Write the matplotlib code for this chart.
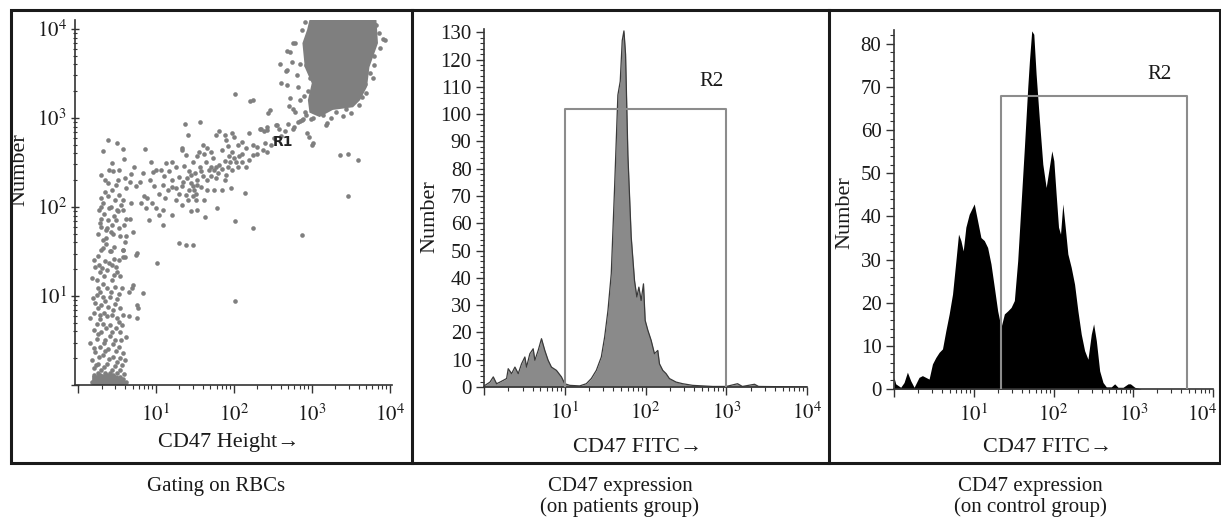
import numpy as np
import matplotlib
matplotlib.use("Agg")
import matplotlib.pyplot as plt
from matplotlib.ticker import FixedLocator, FixedFormatter, NullFormatter, MultipleLocator, LogLocator
from matplotlib.patches import Rectangle
from matplotlib.lines import Line2D
from matplotlib.transforms import ScaledTranslation

plt.rcParams['font.family'] = ['Liberation Serif', 'DejaVu Serif']
plt.rcParams['mathtext.fontset'] = 'stix'

# ---------------- DATA ----------------
# Panel 1: gating scatter, values given as log10(CD47 height), log10(number)
rbc_log_height = [
    2.01, 2.21, 2.44, 2.68, 2.76, 2.67, 3.94, 3.36, 3.47, 3.59, 3.47, 2.87, 2.01, 2.24,
    1.01, 2.01, 1.29, 1.39, 1.48, 2.14, 1.78, 1.63, 1.37, 1.56, 1.41, 0.39, 0.50, 0.32,
    0.58, 0.86, 0.59, 0.94, 1.33, 2.42, 2.55, 2.76, 2.97, 3.00, 2.33, 0.84, 1.09, 0.71,
    0.74, 0.70, 0.83, 0.75, 0.65, 0.60,
    1.81, 1.88, 1.98, 2.00, 1.77, 2.11, 2.20, 2.35, 2.39, 2.54, 2.58, 2.77, 2.88, 2.92,
    3.01, 2.94, 3.01, 3.18, 2.71, 2.79,
    0.44, 0.29, 0.40, 0.53, 0.68, 0.83, 0.96, 1.06, 1.13, 1.21, 1.26, 1.34, 1.38, 1.47,
    1.53, 1.62, 1.66, 1.73, 1.77, 1.85, 1.92, 1.94, 1.98, 2.03, 2.07, 2.11, 2.20, 2.24,
    2.30, 2.37, 2.43, 1.85, 1.68, 1.58, 1.45, 1.30, 1.17, 0.98, 1.09, 1.21, 1.04, 1.15,
    1.26, 1.34, 1.45, 1.49, 1.47, 1.41, 1.51, 1.62, 1.66, 1.75, 1.85, 1.96, 1.88, 1.77,
    1.66, 1.26, 1.34, 1.45, 1.53,
    0.89, 0.87, 1.00, 1.09, 1.21, 1.04, 0.81, 0.68, 0.57, 0.47, 0.38, 0.32, 0.27, 0.40,
    0.51, 0.29, 0.36, 0.44, 0.53, 0.59, 0.49, 0.66, 0.62, 0.91,
    0.32, 0.42, 0.57, 0.57, 0.27, 0.40, 0.49,
    1.00, 0.74, 0.62, 0.66, 0.38, 0.44, 0.53, 0.34,
    1.43, 1.47, 1.51, 1.38, 1.53, 1.71, 1.75, 1.81, 1.92, 1.98, 2.05, 1.88, 1.64, 1.56,
    0.51, 0.57, 0.29, 0.38,
    0.30, 0.41, 0.58, 0.60, 0.75, 0.35, 0.43, 0.22, 0.28, 0.37, 0.50, 0.54, 0.24, 0.32,
    0.43, 0.26, 0.37, 0.47, 0.56, 0.69, 0.65, 0.24, 0.32, 0.41, 0.50, 0.22, 0.30, 0.39,
    0.45, 0.54, 0.77, 0.20, 0.28, 0.37, 0.50, 0.58, 0.15, 0.24, 0.32, 0.41, 0.56, 0.75,
    0.20, 0.30, 0.44, 0.54, 0.62, 0.24, 0.35, 0.47, 0.15, 0.28, 0.39, 0.52, 0.58, 0.22,
    0.32, 0.45, 0.18, 0.26, 0.37, 0.50, 0.56, 0.20, 0.30, 0.43, 0.54, 0.20, 0.28, 0.37,
    0.45, 0.54, 0.58,
    0.18, 0.22, 0.26, 0.30, 0.34, 0.38, 0.42, 0.46, 0.50, 0.54, 0.58, 0.62,
    0.28, 0.37, 0.45, 0.54, 0.30, 0.50, 0.62, 0.32, 0.60,
    0.18, 0.33, 0.46, 0.28, 0.42, 0.52, 0.19, 0.35, 0.47, 0.26, 0.33, 0.43, 0.53, 0.28,
    0.36, 0.49, 0.26, 0.41, 0.55, 0.33, 0.45, 0.20, 0.35, 0.49, 0.27, 0.40, 0.54, 0.23,
    0.33, 0.47, 0.25, 0.34, 0.41, 0.50, 0.59, 0.24, 0.32, 0.40, 0.48, 0.20, 0.25, 0.36,
    0.46, 0.52, 0.31, 0.46,
    2.91, 2.87, 2.96, 2.78, 2.72, 2.59, 2.68, 2.74, 2.85, 2.81, 2.61, 2.68, 2.82, 2.72,
    2.85, 2.76, 2.91, 2.46, 2.89, 2.85, 2.99, 3.19, 3.31, 3.44, 3.65, 3.91, 3.83, 3.72,
    3.06, 3.02, 2.25, 2.42,
    3.80, 3.75, 3.68, 3.86, 3.60, 3.50, 3.05, 3.15, 2.95, 2.93, 2.92,
    1.35, 1.40, 1.52, 1.58, 1.60, 1.42, 1.50, 1.36, 1.70, 1.80, 1.90, 1.95, 2.00, 2.10,
    2.15, 2.25, 2.30, 2.40, 2.48, 2.52, 2.60, 2.65, 2.70, 2.82, 1.70, 1.60, 1.55, 2.05,
    1.90, 2.15, 0.35, 0.45, 0.48, 0.60, 0.72, 0.30, 0.42, 0.55, 0.33, 0.46, 0.36, 0.42,
    0.25, 0.80, 0.92, 1.10, 1.20, 1.12, 0.95, 1.30,
    2.98, 3.80, 3.88, 3.80, 3.78, 3.70, 3.40, 3.25, 2.98, 2.93, 3.00, 2.90,
]
rbc_log_number = [
    3.27, 3.19, 3.06, 3.75, 3.84, 3.53, 3.88, 2.58, 2.60, 2.53, 2.12, 1.69, 1.84, 1.76,
    1.37, 0.94, 1.59, 1.57, 1.57, 2.16, 1.99, 1.89, 2.93, 2.95, 2.81, 2.75, 2.72, 2.63,
    2.65, 2.65, 2.54, 2.51, 2.66, 2.90, 2.92, 2.88, 2.79, 2.70, 2.88, 2.12, 1.80, 1.72,
    1.46, 1.12, 1.03, 0.90, 0.77, 0.28,
    2.85, 2.81, 2.83, 2.79, 2.81, 2.73, 2.83, 2.88, 2.85, 2.92, 2.88, 2.90, 2.98, 3.03,
    3.00, 2.83, 2.72, 2.92, 3.13, 3.07,
    2.49, 2.36, 2.42, 2.42, 2.37, 2.38, 2.39, 2.42, 2.49, 2.51, 2.45, 2.64, 2.58, 2.51,
    2.57, 2.60, 2.66, 2.55, 2.45, 2.64, 2.68, 2.57, 2.62, 2.51, 2.57, 2.60, 2.53, 2.58,
    2.60, 2.64, 2.62, 2.43, 2.42, 2.40, 2.36, 2.34, 2.40, 2.23, 2.25, 2.30, 2.15, 2.19,
    2.21, 2.23, 2.27, 2.19, 2.12, 2.08, 2.08, 2.08, 2.19, 2.19, 2.19, 2.21, 2.30, 2.32,
    2.30, 2.08, 2.02, 1.95, 1.97,
    2.10, 1.99, 1.99, 1.97, 1.91, 1.91, 2.04, 2.04, 1.97, 2.08, 2.12, 2.04, 1.97, 1.99,
    1.95, 1.78, 1.74, 1.80, 1.76, 1.80, 1.85, 1.87, 1.67, 1.85,
    1.54, 1.50, 1.52, 1.44, 1.35, 1.37, 1.33,
    2.42, 2.23, 2.21, 2.28, 2.27, 2.19, 2.13, 2.17,
    2.19, 2.23, 2.15, 2.13, 2.25, 2.45, 2.42, 2.47, 2.45, 2.42, 2.45, 2.52, 2.51, 2.45,
    2.30, 2.08, 1.87, 1.85,
    1.52, 1.50, 1.52, 1.44, 1.48, 1.39, 1.35, 1.33, 1.27, 1.29, 1.27, 1.22, 1.18, 1.14,
    1.18, 1.09, 1.09, 1.10, 1.09, 1.09, 1.05, 1.01, 0.99, 0.99, 0.97, 0.92, 0.90, 0.88,
    0.84, 0.86, 0.86, 0.81, 0.79, 0.77, 0.75, 0.79, 0.75, 0.69, 0.69, 0.67, 0.67, 0.75,
    0.62, 0.60, 0.60, 0.60, 0.54, 0.52, 0.51, 0.51, 0.47, 0.43, 0.41, 0.43, 0.36, 0.37,
    0.34, 0.32, 0.28, 0.24, 0.24, 0.26, 0.22, 0.19, 0.17, 0.17, 0.17, 0.11, 0.11, 0.11,
    0.11, 0.09, 0.07,
    0.03, 0.03, 0.03, 0.03, 0.03, 0.03, 0.03, 0.03, 0.03, 0.03, 0.03, 0.03,
    1.82, 1.76, 1.70, 1.67, 2.00, 1.97, 1.87, 1.63, 1.61,
    1.20, 1.22, 1.24, 1.05, 1.04, 1.02, 0.98, 0.94, 0.91, 0.86, 0.81, 0.79, 0.71, 0.74,
    0.64, 0.64, 0.57, 0.55, 0.50, 0.47, 0.46, 0.42, 0.38, 0.38, 0.31, 0.29, 0.30, 0.22,
    0.20, 0.21, 0.14, 0.14, 0.14, 0.13, 0.12, 0.07, 0.07, 0.07, 0.07, 1.40, 1.45, 1.58,
    1.55, 1.40, 1.31, 1.42,
    4.08, 3.99, 3.93, 3.84, 3.74, 3.61, 3.54, 3.63, 3.61, 3.48, 3.39, 3.37, 3.35, 3.22,
    3.20, 3.10, 3.07, 3.09, 2.99, 2.97, 2.99, 2.94, 3.07, 3.10, 3.24, 3.89, 4.04, 3.93,
    3.85, 3.70, 3.20, 2.86,
    3.70, 3.50, 3.38, 3.95, 3.15, 3.05, 3.12, 3.03, 3.30, 3.60, 3.80,
    2.28, 2.32, 2.30, 2.22, 2.35, 2.40, 2.38, 2.46, 2.35, 2.38, 2.36, 2.50, 2.55, 2.50,
    2.66, 2.70, 2.67, 2.72, 2.70, 2.78, 2.80, 2.85, 2.93, 2.95, 2.62, 2.70, 2.62, 2.70,
    2.75, 2.45, 2.30, 2.40, 2.25, 2.32, 2.45, 2.10, 2.00, 2.02, 1.92, 1.90, 1.65, 1.72,
    1.70, 2.28, 2.30, 2.35, 2.22, 2.10, 2.05, 2.15,
    3.95, 4.05, 3.78, 3.60, 3.45, 3.28, 3.02, 3.00, 3.45, 3.68, 3.15, 3.25,
]
# outlines of the densest (saturated) regions, log10 units
cluster_log_height = [2.97, 3.83, 3.85, 3.74, 3.71, 3.62, 3.53, 3.27, 3.10, 2.97, 2.95, 3.00, 2.91, 2.88, 2.94]
cluster_log_number = [4.10, 4.10, 3.84, 3.57, 3.35, 3.20, 3.12, 3.09, 3.01, 3.06, 3.20, 3.39, 3.57, 3.84, 3.99]
column_log_height = [0.18, 0.60, 0.58, 0.45, 0.30, 0.18]
column_log_number = [0.00, 0.00, 0.08, 0.12, 0.12, 0.10]

# Panel 2: patients histogram (log10 FITC, count)
pat_log_fitc = [0.0, 0.012, 0.074, 0.115, 0.156, 0.198, 0.280, 0.300, 0.342, 0.383, 0.424, 0.465,
                0.506, 0.527, 0.568, 0.609, 0.630, 0.671, 0.712, 0.753, 0.794, 0.835, 0.897, 0.959,
                1.0, 1.062, 1.185, 1.267, 1.329, 1.391, 1.453, 1.494, 1.535, 1.576, 1.617, 1.658,
                1.687, 1.712, 1.733, 1.753, 1.782, 1.823, 1.864, 1.893, 1.918, 1.946, 1.975, 1.996,
                2.029, 2.070, 2.111, 2.152, 2.173, 2.214, 2.255, 2.296, 2.379, 2.461, 2.584, 2.831,
                3.0, 3.14, 3.2, 3.35, 3.4, 4.0]
pat_count = [0.5, 0.6, 1.8, 3.7, 1.2, 1.8, 3.1, 6.7, 4.9, 7.3, 4.9, 8.5,
             11, 7.3, 12.2, 14, 9.8, 13.4, 17.7, 13.4, 9.8, 7.3, 6.1, 3.7,
             1.2, 0.6, 0.4, 1.2, 3.1, 6.1, 11, 18.3, 28, 41.5, 73, 107,
             112, 127, 130.5, 122, 85, 55, 39, 33, 36.6, 31.7, 37.8, 24.4,
             20.8, 17.1, 12.2, 13.4, 8.5, 6.1, 4.9, 3.1, 1.8, 1.2, 0.6, 0.2,
             0.2, 1.2, 0.2, 1.0, 0.2, 0.0]

# Panel 3: control histogram (log10 FITC, count)
ctl_log_fitc = [0.0, 0.021, 0.084, 0.126, 0.168, 0.210, 0.252, 0.314, 0.356, 0.398, 0.440, 0.482,
                0.524, 0.566, 0.608, 0.650, 0.692, 0.734, 0.776, 0.809, 0.839, 0.868, 0.901, 0.943,
                1.006, 1.048, 1.090, 1.132, 1.174, 1.216, 1.258, 1.300, 1.342, 1.384, 1.426, 1.468,
                1.509, 1.551, 1.593, 1.635, 1.677, 1.698, 1.727, 1.753, 1.782, 1.824, 1.866, 1.908,
                1.941, 1.979, 2.004, 2.033, 2.063, 2.088, 2.117, 2.147, 2.180, 2.222, 2.264, 2.306,
                2.348, 2.390, 2.432, 2.474, 2.503, 2.537, 2.579, 2.621, 2.662, 2.725, 2.767, 2.809,
                2.872, 2.935, 2.964, 3.019, 3.1, 4.0]
ctl_count = [2.7, 1.2, 0.4, 1.5, 3.9, 1.9, 0.4, 2.7, 3.1, 2.7, 2.3, 5.8,
             7.3, 8.5, 9.3, 13.5, 17.4, 22, 29.7, 35.9, 34.4, 32, 37.5, 40.5,
             42.9, 39, 35.1, 34.4, 32.8, 29, 23.6, 18.1, 14.3, 17.4, 18.1, 18.9,
             20.5, 29.7, 42.9, 56, 69.9, 76, 83, 82.2, 73, 62.2, 52.1, 46.7,
             50.6, 55.2, 52.9, 45.2, 37.5, 35.9, 42.9, 37.5, 31.3, 28.2, 24.3, 18.1,
             12.7, 8.9, 6.9, 12.7, 15.1, 11.2, 4.2, 1.5, 0.5, 0.5, 1.2, 0.4,
             0.4, 1.2, 1.2, 0.4, 0.0, 0.0]

# gates
pat_gate_x = [10, 10, 1000, 1000]
pat_gate_y = [0, 102, 102, 0]
ctl_gate_x = [22, 22, 4700, 4700]
ctl_gate_y = [0, 68, 68, 0]

decade_ticks = [1, 10, 100, 1000, 10000]
decade_labels = ['', r'$10^{1}$', r'$10^{2}$', r'$10^{3}$', r'$10^{4}$']
pat_yticks = list(range(0, 131, 10))
ctl_yticks = list(range(0, 81, 10))

captions = [["Gating on RBCs"],
            ["CD47 expression", "(on patients group)"],
            ["CD47 expression", "(on control group)"]]

# ---------------- FIGURE ----------------
W, H = 1221, 519
fig = plt.figure(figsize=(W / 100, H / 100), dpi=100)


def fx(px):
    return px / W


def fy(py):
    return 1 - py / H


def add_axes_px(left, top, right, bottom):
    return fig.add_axes([left / W, 1 - bottom / H, (right - left) / W, (bottom - top) / H])


ax1 = add_axes_px(75, 20, 392, 385)
ax2 = add_axes_px(484, 29, 807, 387)
ax3 = add_axes_px(894, 30, 1213, 389)

AXC = '#333333'
GREY = '#7f7f7f'

for ax in (ax1, ax2, ax3):
    for s in ('top', 'right'):
        ax.spines[s].set_visible(False)
    for s in ('left', 'bottom'):
        ax.spines[s].set_color(AXC)
        ax.spines[s].set_linewidth(1.2)
    ax.set_xscale('log')
    ax.xaxis.set_major_locator(FixedLocator(decade_ticks))
    ax.xaxis.set_major_formatter(FixedFormatter(decade_labels))
    ax.xaxis.set_minor_locator(LogLocator(base=10, subs=np.arange(2, 10)))
    ax.xaxis.set_minor_formatter(NullFormatter())
    ax.tick_params(which='both', colors=AXC, labelcolor='#1a1a1a', labelsize=15, direction='out')
    ax.tick_params(which='major', length=6, width=1.0)
    ax.tick_params(which='minor', length=3, width=0.8)
    ax.tick_params(axis='x', which='major', pad=5)
    ax.set_facecolor('none')

# Panel 1
ax1.set_yscale('log')
ax1.yaxis.set_major_locator(FixedLocator(decade_ticks))
ax1.yaxis.set_major_formatter(FixedFormatter(decade_labels))
ax1.yaxis.set_minor_locator(LogLocator(base=10, subs=np.arange(2, 10)))
ax1.yaxis.set_minor_formatter(NullFormatter())
ax1.tick_params(axis='y', which='both', direction='inout', pad=3)
ax1.tick_params(axis='x', which='major', pad=8)
lh = np.array(rbc_log_height)
ln = np.array(rbc_log_number)
ax1.fill(10 ** np.array(cluster_log_height), 10 ** np.array(cluster_log_number), color=GREY, lw=0)
ax1.fill(10 ** np.array(column_log_height), 10 ** np.array(column_log_number), color=GREY, lw=0)
ax1.scatter(10 ** lh, 10 ** ln, s=11, c=GREY, linewidths=0)
ax1.set_xlim(10 ** -0.04, 10 ** 4.03)
ax1.set_ylim(1, 10 ** 4.10)
ax1.text(10 ** 2.63, 10 ** 2.73, 'R1', family='DejaVu Sans', fontweight='bold', fontsize=10,
         color='#222222', ha='center', va='center')

# Panel 2
px2 = 10 ** np.array(pat_log_fitc)
ax2.fill_between(px2, 0, pat_count, color='#8a8a8a', lw=0)
ax2.plot(px2, pat_count, color='#3a3a3a', lw=0.9)
ax2.plot(pat_gate_x, pat_gate_y, color='#8c8c8c', lw=1.5, zorder=5)
ax2.set_xlim(1, 10000)
ax2.set_ylim(0, 131.2)
ax2.yaxis.set_major_locator(FixedLocator(pat_yticks))
ax2.yaxis.set_minor_locator(MultipleLocator(2))
ax2.tick_params(axis='y', which='major', pad=3)
ax2.text(665, 112, 'R2', fontsize=15, ha='center', va='center', color='#1a1a1a')

# Panel 3
px3 = 10 ** np.array(ctl_log_fitc)
ax3.fill_between(px3, 0, ctl_count, color='black', lw=0)
ax3.plot(ctl_gate_x, ctl_gate_y, color='#8c8c8c', lw=1.5, zorder=5)
ax3.set_xlim(1, 10000)
ax3.set_ylim(0, 83.2)
ax3.yaxis.set_major_locator(FixedLocator(ctl_yticks))
ax3.yaxis.set_minor_locator(MultipleLocator(2))
ax3.tick_params(axis='y', which='major', pad=3)
ax3.text(2160, 72.8, 'R2', fontsize=15, ha='center', va='center', color='#1a1a1a')

# last tick label of panel 3 sits against the frame, right-aligned as in the source
last_tick = ax3.xaxis.get_major_ticks()[-1]
last_tick.label1.set_horizontalalignment('right')
last_tick.label1.set_transform(last_tick.label1.get_transform()
                               + ScaledTranslation(4 / 100, 0, fig.dpi_scale_trans))

# axis labels
for x, y in [(20, 170), (430, 217), (845, 213)]:
    fig.text(fx(x), fy(y), 'Number', rotation=90, ha='center', va='center', fontsize=16, color='#1a1a1a')
fig.text(fx(229), fy(443), 'CD47 Height\u2192', ha='center', va='center', fontsize=16, color='#1a1a1a')
fig.text(fx(638), fy(447), 'CD47 FITC\u2192', ha='center', va='center', fontsize=16, color='#1a1a1a')
fig.text(fx(1048), fy(447), 'CD47 FITC\u2192', ha='center', va='center', fontsize=16, color='#1a1a1a')

# frame
fig.add_artist(Rectangle((fx(10.5), fy(462.5)), (1219.5 - 10.5) / W, (462.5 - 9.5) / H,
                         transform=fig.transFigure, fill=False, lw=2.2, edgecolor='#1a1a1a'))
for xd in (411.5, 828.5):
    fig.add_artist(Line2D([fx(xd), fx(xd)], [fy(9.5), fy(462.5)], transform=fig.transFigure,
                          lw=2.2, color='#1a1a1a'))

# captions
for cx, lines in zip([216, 620, 1030], captions):
    for i, line in enumerate(lines):
        fig.text(fx(cx), fy(486 + 21 * i), line, ha='center', va='center', fontsize=15, color='#1a1a1a')

fig.savefig('out.png', dpi=100)
